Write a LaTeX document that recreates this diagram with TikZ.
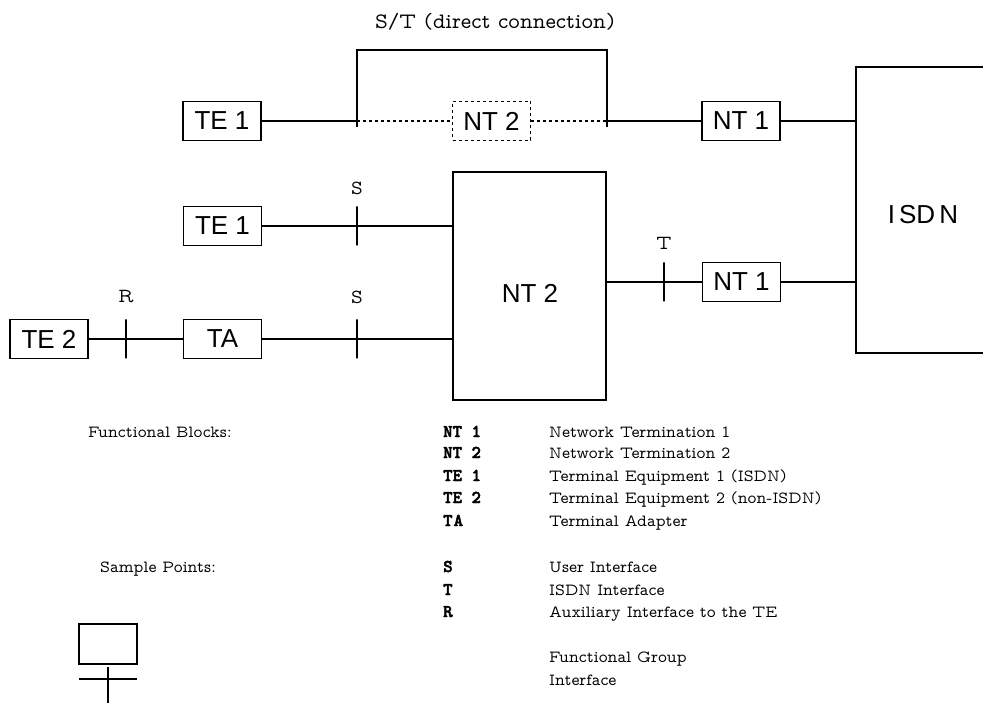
\documentclass[tikz,border=0pt]{standalone}
\usepackage{fontspec}
\setsansfont{Liberation Sans}
\newfontfamily\ptfont{lmmonoprop10-regular.otf}
\newfontfamily\keyfont[FakeBold=2.5]{lmmonolt10-bold.otf}
\usetikzlibrary{positioning}

\begin{document}
\begin{tikzpicture}[x=1pt, y=-1pt,
    every node/.style={font=\sffamily\fontsize{26}{30}\selectfont},
    fgbox/.style={draw, rectangle, line width=1.6pt, minimum width=78pt, minimum height=39pt, inner sep=0pt, fill=white},
    ptmark/.style={draw, rectangle, line width=1.6pt, minimum width=0pt, minimum height=39pt, inner sep=0pt},
    ptlabel/.style={font=\ptfont\fontsize{20}{24}\selectfont, inner sep=0pt},
    legtext/.style={font=\ptfont\fontsize{17}{20}\selectfont, anchor=base west, inner sep=0pt},
    legkey/.style={font=\keyfont\fontsize{18}{20}\selectfont, anchor=base west, inner sep=0pt},
    wire/.style={line width=1.6pt},
    dotwire/.style={line width=1.8pt, dash pattern=on 3pt off 3pt}
]
    \useasboundingbox (0,0) rectangle (983,703);

    % ISDN network and the big NT 2
    \node[minimum width=134pt, minimum height=286pt, inner sep=0pt] (isdn) at (923,210) {};
    \draw[wire] (isdn.north east) -- (isdn.north west) -- (isdn.south west) -- (isdn.south east);
    \node (isdnlab) at (923,215) {I\kern4pt SD\kern4pt N};
    \node[draw, line width=1.6pt, minimum width=153pt, minimum height=228pt, inner sep=0pt] (nt2) at (529.5,286) {};
    \node (nt2lab) at (530,293) {NT 2};

    % Top row: S/T direct connection
    \node[fgbox] (te1a) at (222,121) {TE 1};
    \node[fgbox, line width=1.8pt, dash pattern=on 3pt off 3pt] (nt2d) at (491.5,121) {NT 2};
    \node[fgbox] (nt1a) at (741,121) {NT 1};
    \coordinate (stl) at (357,121);
    \coordinate (str) at (607,121);
    \draw[wire] (te1a) -- (stl);
    \draw[dotwire] (stl) -- (nt2d);
    \draw[dotwire] (nt2d) -- (str);
    \draw[wire] (str) -- (nt1a);
    \draw[wire] (nt1a) -- (nt1a -| isdn.west);
    \draw[wire] ([yshift=-6pt]stl) -- ++(0,-77) -- ++(250,0) -- ++(0,77);
    \node[ptlabel, font=\ptfont\fontsize{22}{26}\selectfont] (stlab) at (495,22) {S/T (direct connection)};

    % Second row
    \node[fgbox] (te1b) at (222.5,226) {TE 1};
    \node[ptmark] (s1) at (357,226) {};
    \node[ptlabel] (s1lab) at (357,188) {S};
    \draw[wire] (te1b) -- (s1) -- (s1 -| nt2.west);

    % Third row
    \node[fgbox] (te2) at (49,339) {TE 2};
    \node[ptmark] (r1) at (126,339) {};
    \node[fgbox] (ta) at (222.5,339) {TA};
    \node[ptmark] (s2) at (357,339) {};
    \node[ptlabel] (r1lab) at (126,297) {R};
    \node[ptlabel] (s2lab) at (357,297) {S};
    \draw[wire] (te2) -- (r1) -- (ta) -- (s2) -- (s2 -| nt2.west);

    % T reference point
    \node[ptmark] (t1) at (664,282) {};
    \node[ptlabel] (t1lab) at (664,243) {T};
    \node[fgbox] (nt1b) at (741.5,282) {NT 1};
    \draw[wire] (nt2.east |- t1) -- (t1) -- (nt1b) -- (nt1b -| isdn.west);

    % Legend
    \node[legtext] (fblab) at (88,437) {Functional Blocks:};
    \node[legkey] (k1) at (443,437) {NT 1};
    \node[legkey] (k2) at (443,458) {NT 2};
    \node[legkey] (k3) at (443,481) {TE 1};
    \node[legkey] (k4) at (443,503) {TE 2};
    \node[legkey] (k5) at (443,526) {T\kern1pt A};
    \node[legtext] (d1) at (549,437) {Network Termination 1};
    \node[legtext] (d2) at (549,458) {Network Termination 2};
    \node[legtext] (d3) at (549,481) {Terminal Equipment 1 (ISDN)};
    \node[legtext] (d4) at (549,503) {Terminal Equipment 2 (non-ISDN)};
    \node[legtext] (d5) at (549,526) {Terminal Adapter};

    \node[legtext] (splab) at (100,572) {Sample Points:};
    \node[legkey] (k6) at (443,572) {S};
    \node[legkey] (k7) at (443,595) {T};
    \node[legkey] (k8) at (443,617) {R};
    \node[legtext] (d6) at (549,572) {User Interface};
    \node[legtext] (d7) at (549,595) {ISDN Interface};
    \node[legtext] (d8) at (549,617) {Auxiliary Interface to the TE};

    \node[draw, line width=1.6pt, minimum width=58pt, minimum height=40pt, inner sep=0pt] (fgsym) at (108,644) {};
    \coordinate (ifsym) at (108,679);
    \draw[wire] (ifsym) ++(-29,0) -- ++(58,0);
    \draw[wire] (ifsym) ++(0,-12) -- ++(0,36);
    \node[legtext] (d9) at (549,662) {Functional Group};
    \node[legtext] (d10) at (549,685) {Interface};
\end{tikzpicture}
\end{document}
